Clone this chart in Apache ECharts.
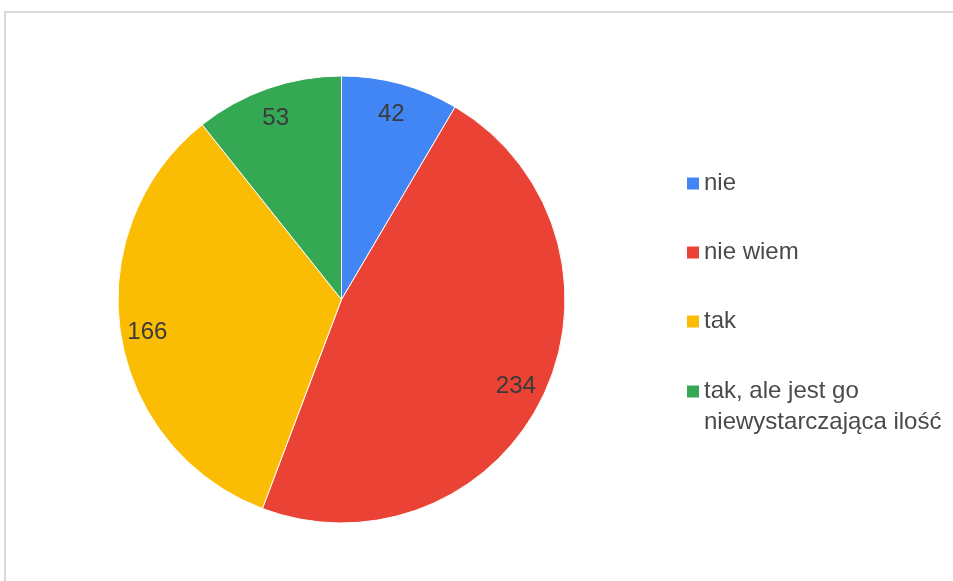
<!DOCTYPE html>
<html>
<head>
<meta charset="utf-8">
<script src="https://cdn.jsdelivr.net/npm/echarts@6/dist/echarts.min.js"></script>
<style>
html,body{margin:0;padding:0;background:#fff;}
#chart{width:953px;height:581px;}
</style>
</head>
<body>
<div id="chart"></div>
<script>
const categories = ['nie', 'nie wiem', 'tak', 'tak, ale jest go\nniewystarczająca ilość'];
const values = [42, 234, 166, 53];
const colors = ['#4285F4', '#EA4335', '#FBBC04', '#34A853'];

const data = categories.map((c, i) => ({ name: c, value: values[i], itemStyle: { color: colors[i] } }));

const legendText = { fontFamily: 'Liberation Sans, Arial, sans-serif', fontSize: 24, color: '#4a4a4a', lineHeight: 31 };
const legendBase = {
  orient: 'vertical',
  left: 687,
  padding: 0,
  itemGap: 38,
  itemWidth: 12,
  itemHeight: 12,
  icon: 'rect',
  selectedMode: false,
  itemStyle: { borderWidth: 0 },
  textStyle: legendText
};

const chart = echarts.init(document.getElementById('chart'), null, { renderer: 'canvas' });
chart.setOption({
  animation: false,
  backgroundColor: '#fff',
  graphic: [
    { type: 'rect', shape: { x: 4, y: 11, width: 2, height: 570 }, style: { fill: '#d9d9d9' } },
    { type: 'rect', shape: { x: 4, y: 11, width: 949, height: 2 }, style: { fill: '#d9d9d9' } }
  ],
  legend: [
    Object.assign({}, legendBase, { top: 168, data: categories.slice(0, 3) }),
    Object.assign({}, legendBase, { top: 345, data: categories.slice(3), formatter: n => '\n' + n })
  ],
  series: [
    {
      type: 'pie',
      center: [341.5, 299.5],
      radius: [0, 223.5],
      startAngle: 90,
      clockwise: true,
      label: { show: false },
      labelLine: { show: false },
      itemStyle: { borderColor: '#fff', borderWidth: 1 },
      emphasis: { disabled: true },
      data: data
    },
    {
      type: 'pie',
      center: [340, 302],
      radius: [160, 224],
      startAngle: 90,
      clockwise: true,
      silent: true,
      legendHoverLink: false,
      itemStyle: { color: 'rgba(0,0,0,0)' },
      label: {
        show: true,
        position: 'inside',
        formatter: '{c}',
        fontFamily: 'Liberation Sans, Arial, sans-serif',
        fontSize: 24,
        color: '#3a3a3a'
      },
      labelLine: { show: false },
      emphasis: { disabled: true },
      data: values.map((v, i) => ({ name: categories[i] + ' ', value: v }))
    }
  ]
});
</script>
</body>
</html>
